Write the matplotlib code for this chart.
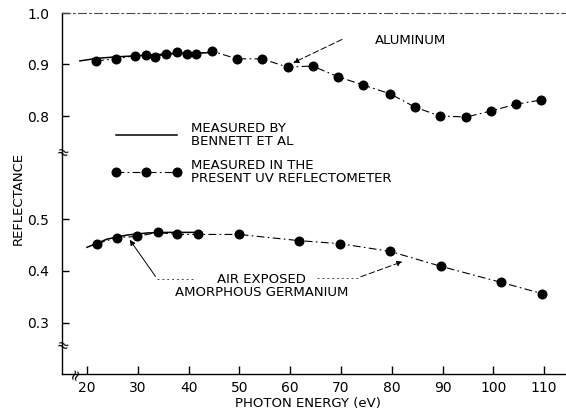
import numpy as np
import matplotlib.pyplot as plt
from matplotlib.lines import Line2D

# photon energy (eV) / reflectance
AL_E = [21.8, 25.7, 29.4, 31.6, 33.4, 35.5, 37.7, 39.6, 41.4, 44.6, 49.5, 54.4,
        59.5, 64.4, 69.5, 74.4, 79.7, 84.6, 89.5, 94.7, 99.6, 104.5, 109.4]
AL_R = [0.907, 0.911, 0.917, 0.918, 0.915, 0.920, 0.924, 0.920, 0.920, 0.926,
        0.911, 0.911, 0.895, 0.897, 0.876, 0.860, 0.843, 0.817, 0.800, 0.798,
        0.810, 0.823, 0.831]
AL_BENNETT_E = [18.6, 22, 26, 30, 35, 40, 45]
AL_BENNETT_R = [0.907, 0.912, 0.915, 0.917, 0.920, 0.922, 0.923]

GE_E = [22.0, 25.9, 29.8, 33.9, 37.7, 41.8, 49.9, 61.7, 69.9, 79.7, 89.7, 101.5, 109.6]
GE_R = [0.453, 0.465, 0.467, 0.475, 0.471, 0.471, 0.471, 0.459, 0.453, 0.438,
        0.409, 0.378, 0.356]
GE_BENNETT_E = [20, 24, 28, 32, 36, 42]
GE_BENNETT_R = [0.446, 0.462, 0.470, 0.474, 0.475, 0.475]

XTICKS = [20, 30, 40, 50, 60, 70, 80, 90, 100, 110]
UPPER_TICKS = [0.8, 0.9, 1.0]
LOWER_TICKS = [0.3, 0.4, 0.5]

W, H = 566, 411
FS = 9.5
DASHDOT = (0, (7, 3, 1.5, 3))
GREY = "#4a4a4a"

plt.rcParams["font.family"] = ["DejaVu Sans"]

fig = plt.figure(figsize=(W / 100, H / 100), dpi=100)
left = 62 / W
ax_top = fig.add_axes([left, 1 - 153 / H, 1 - left, (153 - 13) / H])
ax_bot = fig.add_axes([left, 1 - 374 / H, 1 - left, (374 - 153) / H])

xlim = (15.08, 114.3)
for ax in (ax_top, ax_bot):
    ax.set_xlim(*xlim)
    ax.spines["right"].set_visible(False)
    ax.spines["left"].set_linewidth(1.0)
    ax.tick_params(axis="y", direction="in", length=5, width=1.0, pad=9,
                   labelsize=10)
ax_top.set_ylim(1.0 - 140 / 515, 1.0)
ax_bot.set_ylim(0.2, 0.2 + 221 / 515)

ax_top.spines["bottom"].set_visible(False)
ax_top.spines["top"].set_linestyle(DASHDOT)
ax_top.spines["top"].set_color(GREY)
ax_top.spines["top"].set_linewidth(0.8)
ax_top.set_xticks([])
ax_top.set_yticks(UPPER_TICKS)
ax_top.set_yticklabels([f"{v:.1f}" for v in UPPER_TICKS])

ax_bot.spines["top"].set_visible(False)
ax_bot.spines["bottom"].set_linewidth(1.0)
ax_bot.set_yticks(LOWER_TICKS)
ax_bot.set_yticklabels([f"{v:.1f}" for v in LOWER_TICKS])
ax_bot.set_xticks(XTICKS)
ax_bot.set_xticklabels([str(v) for v in XTICKS])
ax_bot.tick_params(axis="x", direction="in", length=6, width=1.0, pad=5,
                   labelsize=10)

# curves
meas_kw = dict(color="black", linestyle=DASHDOT, linewidth=0.8, marker="o",
               markersize=6.2, markerfacecolor="black", markeredgecolor="black")
ax_top.plot(AL_E, AL_R, **meas_kw)
ax_top.plot(AL_BENNETT_E, AL_BENNETT_R, color="black", linewidth=1.1)
ax_bot.plot(GE_E, GE_R, **meas_kw)
ax_bot.plot(GE_BENNETT_E, GE_BENNETT_R, color="black", linewidth=1.1)

# labels and arrows
ax_top.text(76.7, 0.947, "ALUMINUM", fontsize=FS, va="center", ha="left")
ax_top.annotate("", xy=(60.1, 0.901), xytext=(70.7, 0.951),
                arrowprops=dict(arrowstyle="-|>", color="black", lw=0.7,
                                linestyle=(0, (6, 3)), mutation_scale=8))

ax_bot.text(54.3, 0.371, "AIR EXPOSED\nAMORPHOUS GERMANIUM", fontsize=FS,
            ha="center", va="center", linespacing=1.05)
ax_bot.plot([33.8, 41.5], [0.385, 0.385], color=GREY, lw=0.7, linestyle=(0, (2, 3)))
ax_bot.annotate("", xy=(28.1, 0.465), xytext=(33.8, 0.385),
                arrowprops=dict(arrowstyle="-|>", color="black", lw=0.7,
                                mutation_scale=8))
ax_bot.plot([65.3, 73.4], [0.387, 0.387], color=GREY, lw=0.7, linestyle=(0, (2, 3)))
ax_bot.annotate("", xy=(82.6, 0.420), xytext=(73.4, 0.387),
                arrowprops=dict(arrowstyle="-|>", color="black", lw=0.7,
                                linestyle=(0, (6, 3)), mutation_scale=8))

# legend
handles = [Line2D([], [], color="black", lw=1.1),
           Line2D([], [], **meas_kw)]
leg = fig.legend(handles, ["MEASURED BY\nBENNETT ET AL",
                           "MEASURED IN THE\nPRESENT UV REFLECTOMETER"],
                 loc="upper left", bbox_to_anchor=(112 / W, 1 - 122 / H),
                 frameon=False, fontsize=FS, handlelength=5.2, handletextpad=0.8,
                 numpoints=3, borderpad=0, borderaxespad=0, labelspacing=0.8)
for t in leg.get_texts():
    t.set_linespacing(1.0)

# axis breaks
fig.text(left, 1 - 153 / H, "≈", fontsize=11, ha="center", va="center", rotation=-20)
fig.text(left, 1 - 346 / H, "≈", fontsize=11, ha="center", va="center", rotation=-20)
fig.text(75 / W, 1 - 374 / H, "≈", fontsize=11, ha="center", va="center", rotation=70)

fig.text(18 / W, 1 - 198 / H, "REFLECTANCE", fontsize=FS, rotation=90,
         ha="center", va="center")
fig.text(308 / W, 1 - 403 / H, "PHOTON ENERGY (eV)", fontsize=FS,
         ha="center", va="center")

fig.savefig("out.png", dpi=100)
